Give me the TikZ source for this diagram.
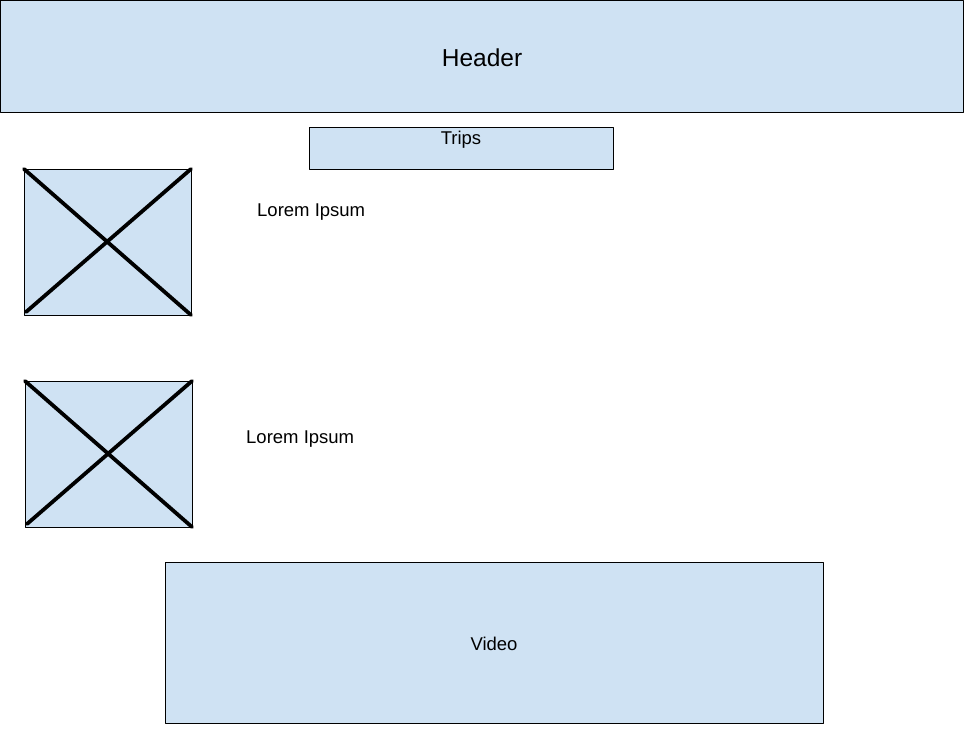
\documentclass[tikz,border=0pt]{standalone}
\usepackage{fontspec}
\setmainfont{Liberation Sans}
\usetikzlibrary{positioning}
\definecolor{paleblue}{HTML}{CFE2F3}

\begin{document}
\begin{tikzpicture}[line cap=round,line join=round,x=1pt,y=-1pt,
  box/.style={draw=black,fill=paleblue,line width=0.9pt,inner sep=0pt,outer sep=0pt},
  cross/.style={line width=3.8pt,color=black},
  txt/.style={inner sep=0pt,font=\fontsize{18.5}{22}\selectfont}]
\useasboundingbox (0,0) rectangle (964,735);
\node[box,minimum width=963pt,minimum height=112pt] (header) at (481.5,56) {};
\node[txt,font=\fontsize{24.5}{28}\selectfont,anchor=center] (headertext) at (482,58) {Header};
\node[box,minimum width=304pt,minimum height=42pt] (trips) at (461,148) {};
\node[txt,anchor=north] (tripstext) at (461,131) {Trips};
% picture placeholders
\node[box,minimum width=167pt,minimum height=146pt] (img1) at (107.5,242) {};
\draw[cross] (img1.north west) -- (img1.south east);
\draw[cross] (img1.north east) -- ([xshift=2pt,yshift=3pt]img1.south west);
\node[txt,anchor=west] (lorem1) at (257,212) {Lorem Ipsum};
\node[box,minimum width=167pt,minimum height=146pt] (img2) at (108.5,454) {};
\draw[cross] (img2.north west) -- (img2.south east);
\draw[cross] (img2.north east) -- ([xshift=2pt,yshift=3pt]img2.south west);
\node[txt,anchor=west] (lorem2) at (246,439) {Lorem Ipsum};
\node[box,minimum width=658pt,minimum height=161pt] (video) at (494,642.5) {};
\node[txt,anchor=center] (videotext) at (494,644) {Video};
\end{tikzpicture}
\end{document}
